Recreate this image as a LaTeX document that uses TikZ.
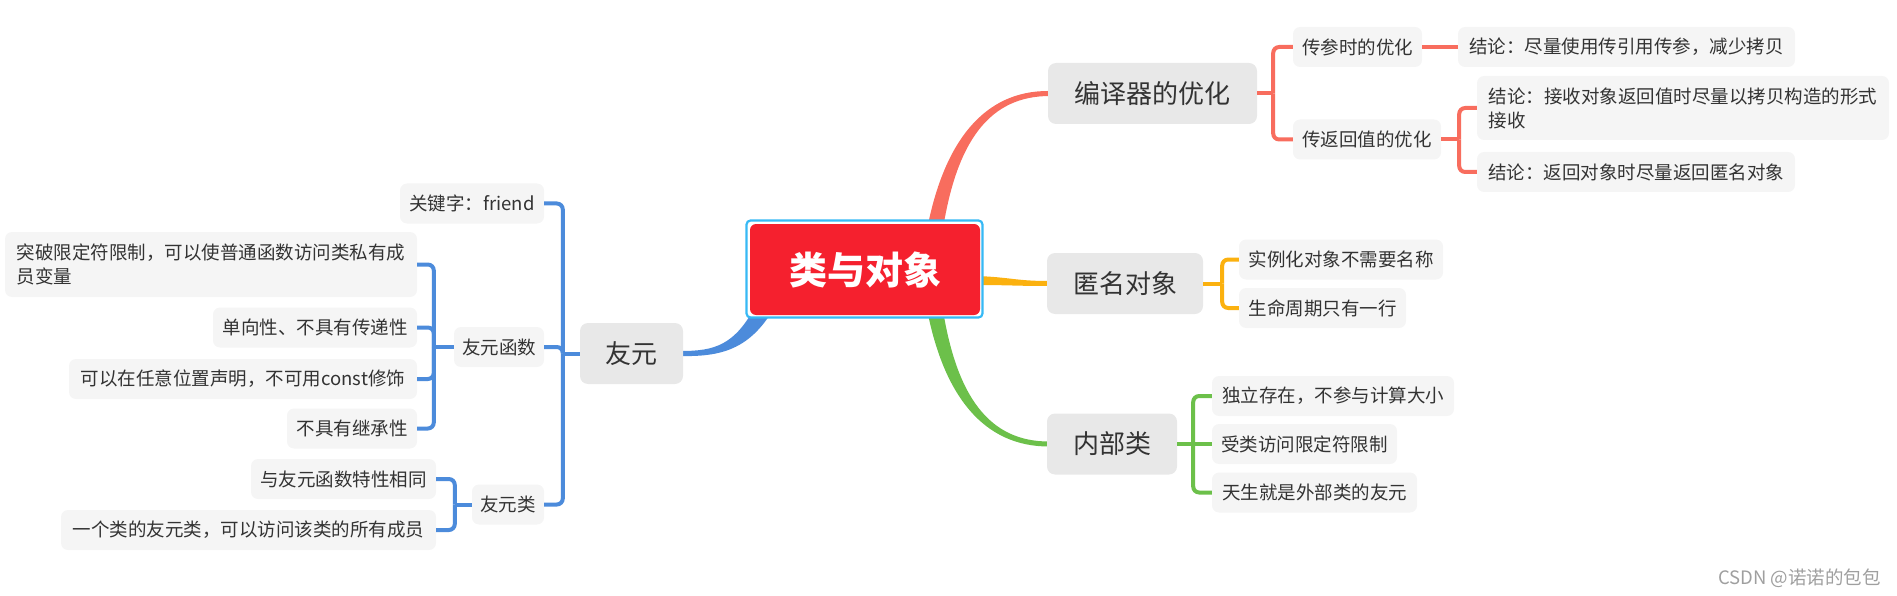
\documentclass[tikz,border=0pt]{standalone}
\usepackage{fontspec}
\setmainfont{Noto Sans CJK SC}
\usetikzlibrary{calc}
\definecolor{salmon}{HTML}{F86D5E}
\definecolor{orangeb}{HTML}{FBB10F}
\definecolor{greenb}{HTML}{6CC04A}
\definecolor{blueb}{HTML}{4C8BDB}
\definecolor{redc}{HTML}{F5202E}
\definecolor{borderc}{HTML}{36B9F5}
\definecolor{maingray}{HTML}{E8E8E8}
\definecolor{subgray}{HTML}{F5F5F5}
\definecolor{txt}{HTML}{333333}
\pgfdeclarelayer{background}
\pgfsetlayers{background,main}
\tikzset{
  mainnode/.style={fill=maingray, rounded corners=8pt, text=txt, font=\fontsize{26}{30}\selectfont, inner sep=0pt, minimum height=61pt},
  subnode/.style={fill=subgray, rounded corners=7pt, text=txt, font=\fontsize{18.5}{24}\selectfont, inner sep=0pt, minimum height=40pt, align=left},
  brk/.style={line width=4pt, rounded corners=6pt},
  sline/.style={brk, draw=salmon},
  oline/.style={brk, draw=orangeb},
  gline/.style={brk, draw=greenb},
  bline/.style={brk, draw=blueb},
}
\begin{document}
\begin{tikzpicture}[x=1pt,y=-1pt]
\useasboundingbox (0,0) rectangle (1897,596);
% central node
\node[draw=borderc, line width=2.2pt, fill=white, rounded corners=4pt, minimum width=236pt, minimum height=97pt, inner sep=0pt] (cout) at (864.5,269) {};
\node[fill=redc, rounded corners=6pt, minimum width=230pt, minimum height=91pt, inner sep=0pt, text=white, font=\fontsize{38}{40}\selectfont\bfseries] (cin) at (865,269.5) {类与对象};
% right side
\node[mainnode, minimum width=209pt] (bianyi) at (1152.5,93.5) {编译器的优化};
\node[subnode, minimum width=129pt] (chuancan) at (1357.5,47) {传参时的优化};
\node[subnode, minimum width=337pt] (jl1) at (1626.5,47) {结论：尽量使用传引用传参，减少拷贝};
\node[subnode, minimum width=148pt] (fanhui) at (1367,139.5) {传返回值的优化};
\node[subnode, minimum width=412pt, minimum height=64pt] (jl2) at (1683,108) {结论：接收对象返回值时尽量以拷贝构造的形式\\接收};
\node[subnode, minimum width=318pt] (jl3) at (1636,172) {结论：返回对象时尽量返回匿名对象};
\node[mainnode, minimum width=156pt] (niming) at (1125,283.5) {匿名对象};
\node[subnode, minimum width=204pt] (shili) at (1341,259.5) {实例化对象不需要名称};
\node[subnode, minimum width=167pt] (shengming) at (1322.5,308) {生命周期只有一行};
\node[mainnode, minimum width=130pt] (neibu) at (1112,444) {内部类};
\node[subnode, minimum width=242pt] (duli) at (1333,396) {独立存在，不参与计算大小};
\node[subnode, minimum width=185pt] (shoulei) at (1304.5,444) {受类访问限定符限制};
\node[subnode, minimum width=205pt] (tiansheng) at (1314.5,492.5) {天生就是外部类的友元};
% left side
\node[mainnode, minimum width=103pt] (youyuan) at (631.5,353.5) {友元};
\node[subnode, minimum width=144pt] (gjz) at (472,203.5) {关键字：friend};
\node[subnode, minimum width=90pt] (yyhs) at (499,347) {友元函数};
\node[subnode, minimum width=412pt, minimum height=65pt] (tupo) at (211,264.5) {突破限定符限制，可以使普通函数访问类私有成\\员变量};
\node[subnode, minimum width=204pt] (danxiang) at (315,327.5) {单向性、不具有传递性};
\node[subnode, minimum width=348pt] (keyi) at (243,379) {可以在任意位置声明，不可用const修饰};
\node[subnode, minimum width=130pt] (buju) at (352,428.5) {不具有继承性};
\node[subnode, minimum width=72pt] (yyl) at (508,504.5) {友元类};
\node[subnode, minimum width=185pt] (yutx) at (343.5,479) {与友元函数特性相同};
\node[subnode, minimum width=375pt] (yige) at (248.5,530) {一个类的友元类，可以访问该类的所有成员};
% watermark
\node[anchor=east, text=gray!75, font=\fontsize{18.5}{20}\selectfont, inner sep=0pt] (wm) at (1881,578) {CSDN @诺诺的包包};
% main tapered branches
\begin{pgfonlayer}{background}
\fill[salmon] (926,235) .. controls (943,140) and (985,91) .. ([shift={(0,-2.5)}]bianyi.west) -- ([shift={(2,2.5)}]bianyi.west) .. controls (990,96) and (956,140) .. (942,235) -- cycle;
\fill[greenb] (926,304) .. controls (943,398) and (985,446.5) .. ([shift={(2,2.5)}]neibu.west) -- ([shift={(2,-2.5)}]neibu.west) .. controls (990,441.5) and (956,398) .. (942,304) -- cycle;
\fill[orangeb] (975,276) .. controls (1010,277) and (1015,281) .. ([shift={(2,-2.5)}]niming.west) -- ([shift={(2,2.5)}]niming.west) .. controls (1015,286) and (1010,285) .. (975,285) -- cycle;
\fill[blueb] (756,305) .. controls (735,345) and (715,351) .. ([shift={(-2,-2.5)}]youyuan.east) -- ([shift={(-2,2.5)}]youyuan.east) .. controls (725,357) and (752,347) .. (776,305) -- cycle;
\end{pgfonlayer}
% brackets right
\coordinate (bb) at ([xshift=16pt]bianyi.east);
\draw[sline] (bianyi.east) -- (bb);
\draw[sline] (chuancan.west) -| (bb);
\draw[sline] (fanhui.west) -| (bb);
\draw[sline] (chuancan.east) -- (jl1.west);
\coordinate (fb) at ([xshift=18pt]fanhui.east);
\draw[sline] (fanhui.east) -- (fb);
\draw[sline] (jl2.west) -| (fb);
\draw[sline] (jl3.west) -| (fb);
\coordinate (nb) at ([xshift=19pt]niming.east);
\draw[oline] (niming.east) -- (nb);
\draw[oline] (shili.west) -| (nb);
\draw[oline] (shengming.west) -| (nb);
\coordinate (ib) at ([xshift=16pt]neibu.east);
\draw[gline] (neibu.east) -- (shoulei.west);
\draw[gline] (duli.west) -| (ib);
\draw[gline] (tiansheng.west) -| (ib);
% brackets left
\coordinate (yb) at ([xshift=-17pt]youyuan.west);
\draw[bline] (youyuan.west) -- (yb);
\draw[bline] (gjz.east) -| (yb);
\draw[bline] (yyhs.east) -| (yb);
\draw[bline] (yyl.east) -| (yb);
\coordinate (hb) at ([xshift=-20pt]yyhs.west);
\draw[bline] (yyhs.west) -- (hb);
\draw[bline] (tupo.east) -| (hb);
\draw[bline] (danxiang.east) -| (hb);
\draw[bline] (keyi.east) -| (hb);
\draw[bline] (buju.east) -| (hb);
\coordinate (lb) at ([xshift=-17pt]yyl.west);
\draw[bline] (yyl.west) -- (lb);
\draw[bline] (yutx.east) -| (lb);
\draw[bline] (yige.east) -| (lb);
\end{tikzpicture}
\end{document}
